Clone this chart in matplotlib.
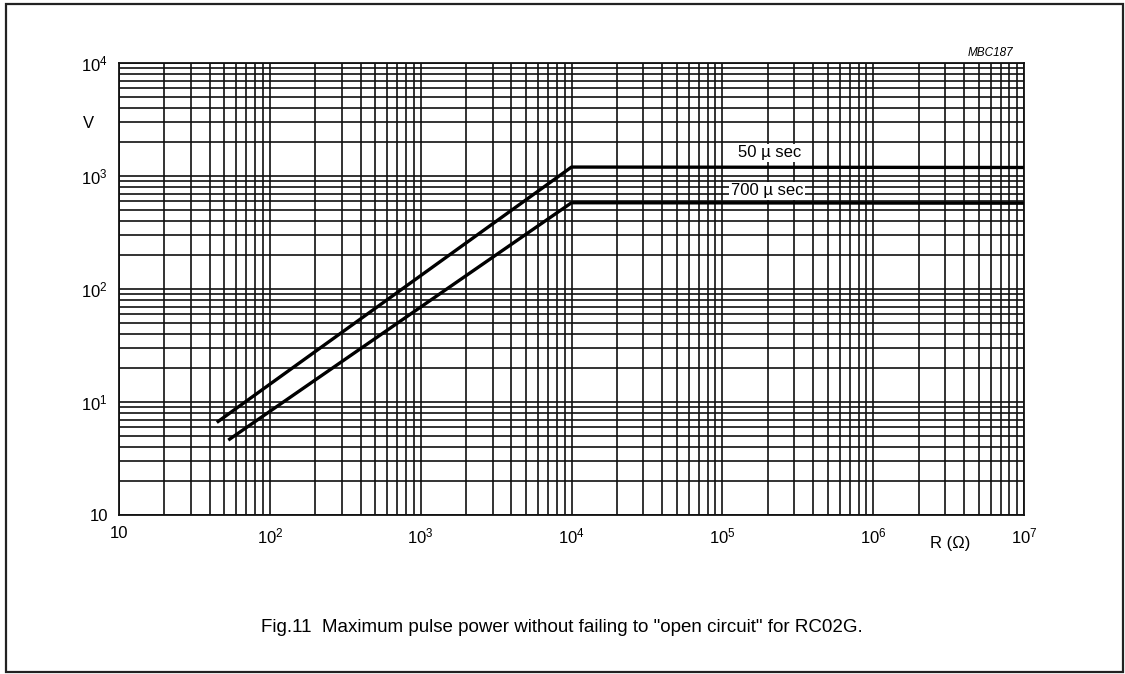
import matplotlib.pyplot as plt
from matplotlib.patches import Rectangle
from matplotlib.ticker import LogLocator, NullFormatter

plt.rcParams['font.family'] = ['Liberation Sans', 'DejaVu Sans']
plt.rcParams['mathtext.fontset'] = 'custom'
plt.rcParams['mathtext.rm'] = 'Liberation Sans'
plt.rcParams['mathtext.it'] = 'Liberation Sans:italic'

# pulse voltage curves (R in ohm, V in volt)
r_50us = [44.5, 1e4, 1e7]
v_50us = [6.6, 1200, 1190]
r_700us = [53, 1e4, 1e7]
v_700us = [4.6, 580, 575]

x_ticks = [10, 1e2, 1e3, 1e4, 1e5, 1e6, 1e7]
x_labels = ['10', '$10^2$', '$10^3$', '$10^4$', '$10^5$', '$10^6$', '$10^7$']
y_ticks = [1, 10, 1e2, 1e3, 1e4]
y_labels = ['10', '$10^1$', '$10^2$', '$10^3$', '$10^4$']

fig = plt.figure(figsize=(11.25, 6.74), dpi=100)
ax = fig.add_axes([0.1058, 0.2359, 0.8044, 0.6706])

ax.set_xscale('log')
ax.set_yscale('log')
ax.set_xlim(10, 1e7)
ax.set_ylim(1, 1e4)

ax.set_xticks(x_ticks)
ax.set_xticklabels(x_labels)
ax.set_yticks(y_ticks)
ax.set_yticklabels(y_labels)
ax.xaxis.set_minor_locator(LogLocator(base=10, subs=range(2, 10)))
ax.yaxis.set_minor_locator(LogLocator(base=10, subs=range(2, 10)))
ax.xaxis.set_minor_formatter(NullFormatter())
ax.yaxis.set_minor_formatter(NullFormatter())
ax.tick_params(which='both', length=0, labelsize=12)
ax.tick_params(axis='x', pad=8)
ax.tick_params(axis='y', pad=8)

ax.grid(which='both', color='#111111', linewidth=1.2)
ax.set_axisbelow(True)
for s in ax.spines.values():
    s.set_linewidth(1.3)
    s.set_color('#111111')

ax.plot(r_50us, v_50us, color='black', linewidth=2.4, solid_capstyle='butt', zorder=3)
ax.plot(r_700us, v_700us, color='black', linewidth=2.4, solid_capstyle='butt', zorder=3)

ax.text(2.07e5, 1600, '50 µ sec', fontsize=12, ha='center', va='center',
        bbox=dict(facecolor='white', edgecolor='none', pad=1), zorder=4)
ax.text(1.98e5, 741, '700 µ sec', fontsize=12, ha='center', va='center',
        bbox=dict(facecolor='white', edgecolor='none', pad=1), zorder=4)

ax.text(-0.034, 0.867, 'V', transform=ax.transAxes, fontsize=12, ha='center', va='center')
ax.text(0.918, -0.062, 'R (Ω)', transform=ax.transAxes, fontsize=12, ha='center', va='center')
ax.text(0.988, 1.022, 'MBC187', transform=ax.transAxes, fontsize=8.5, style='italic',
        ha='right', va='center')

fig.text(562 / 1125, 1 - 627 / 674, 'Fig.11  Maximum pulse power without failing to "open circuit" for RC02G.',
         fontsize=13.5, ha='center', va='center')

fig.patches.append(Rectangle((6 / 1125, 2 / 674), 1117 / 1125, 668 / 674, transform=fig.transFigure,
                             fill=False, edgecolor='#222222', linewidth=1.6))

fig.savefig('out.png', dpi=100, facecolor='white')
